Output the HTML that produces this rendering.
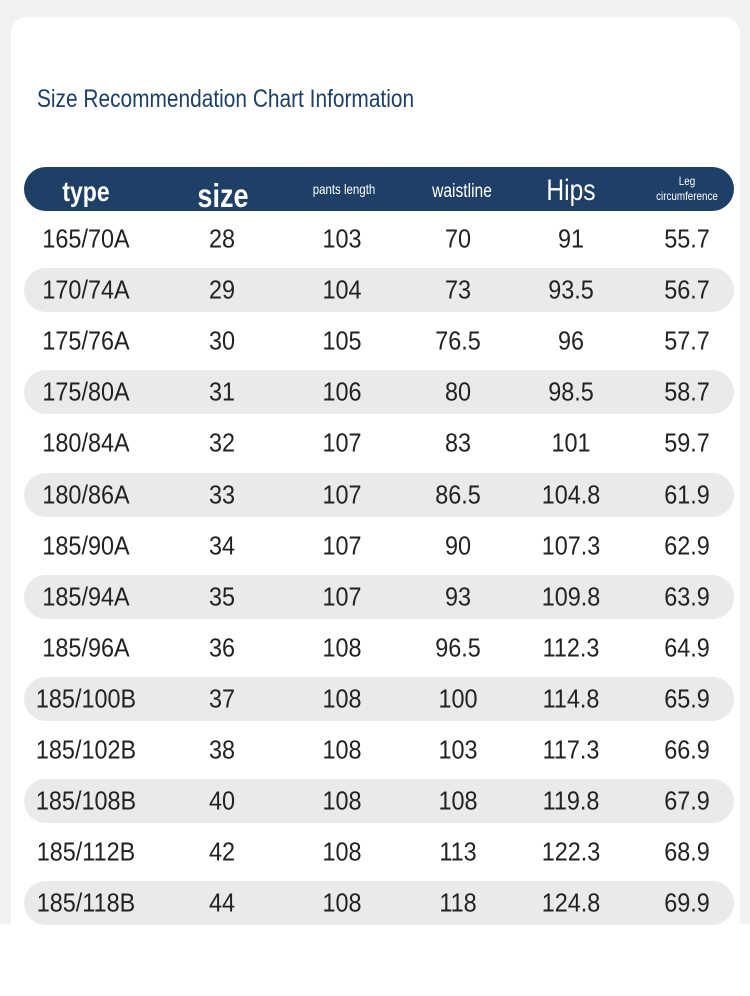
<!DOCTYPE html>
<html><head><meta charset="utf-8"><style>
*{margin:0;padding:0;box-sizing:border-box}
body{width:750px;height:996px;background:#fff;position:relative;overflow:hidden;font-family:"Liberation Sans Narrow","Liberation Sans",sans-serif}
.bg{position:absolute;left:0;top:0;width:750px;height:924px;background:#f2f2f2}
.card{position:absolute;left:11px;top:17px;width:729px;height:920px;background:#fff;border-radius:16px}
.title{position:absolute;left:37px;top:85px;font-size:25px;color:#1e3f66;transform:scaleX(0.835);transform-origin:left center;white-space:nowrap}
.hdr{position:absolute;left:24px;top:167px;width:710px;height:44px;background:#1e3f66;border-radius:22px}
.c{position:absolute;transform:translate(-50%,-50%) scaleX(0.82);white-space:nowrap;text-align:center}
.t.c{transform:translate(-50%,-50%) scaleX(0.9)}
.h{color:#fff}
.row{position:absolute;left:24px;width:710px;height:44px;border-radius:22px;background:#e8eaeb}
.t{font-size:26px;color:#222}
</style></head><body>
<div class="bg"></div><div class="card"></div>
<div class="title">Size Recommendation Chart Information</div>
<div class="hdr"></div>
<div class="c h" style="left:86px;top:192px;font-size:28px;font-weight:bold">type</div>
<div class="c h" style="left:223px;top:196px;font-size:33px;font-weight:bold">size</div>
<div class="c h" style="left:344px;top:189px;font-size:14px">pants length</div>
<div class="c h" style="left:462px;top:192px;font-size:19px">waistline</div>
<div class="c h" style="left:571px;top:191px;font-size:30px">Hips</div>
<div class="c h" style="left:687px;top:189px;font-size:12px;line-height:15px">Leg<br>circumference</div>
<div id="rows"></div>
<script>
var d=[["165/70A",28,103,70,91,55.7],["170/74A",29,104,73,93.5,56.7],["175/76A",30,105,76.5,96,57.7],["175/80A",31,106,80,98.5,58.7],["180/84A",32,107,83,101,59.7],["180/86A",33,107,86.5,104.8,61.9],["185/90A",34,107,90,107.3,62.9],["185/94A",35,107,93,109.8,63.9],["185/96A",36,108,96.5,112.3,64.9],["185/100B",37,108,100,114.8,65.9],["185/102B",38,108,103,117.3,66.9],["185/108B",40,108,108,119.8,67.9],["185/112B",42,108,113,122.3,68.9],["185/118B",44,108,118,124.8,69.9]];
var xs=[86,222,342,458,571,687],h="";
d.forEach(function(r,i){var y=239+i*51.1;if(i%2)h+='<div class="row" style="top:'+(y-22)+'px"></div>';r.forEach(function(v,j){h+='<div class="c t" style="left:'+xs[j]+'px;top:'+y+'px">'+v+'</div>'})});
document.getElementById("rows").innerHTML=h;
</script>
</body></html>
